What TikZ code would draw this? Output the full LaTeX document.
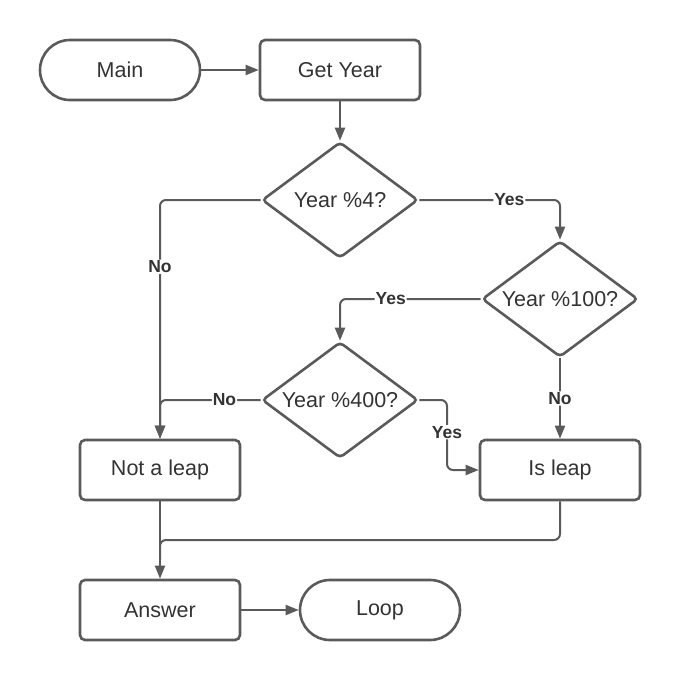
\documentclass[tikz,border=0pt]{standalone}
\usepackage{fontspec}
\setmainfont{Liberation Sans}
\usetikzlibrary{shapes.geometric,arrows.meta}
\definecolor{linec}{HTML}{5A5A5A}
\definecolor{textc}{HTML}{333333}
\tikzset{
  base/.style={draw=linec, line width=2.6pt, text=textc, font=\fontsize{21.5}{25}\selectfont, inner sep=0pt},
  term/.style={base, rounded corners=30pt, minimum width=160pt, minimum height=60pt},
  procbox/.style={base, rounded corners=5pt, minimum width=160pt, minimum height=60pt},
  decision/.style={base, diamond, aspect=1.34, rounded corners=4pt, minimum width=156pt, minimum height=116pt},
  conn/.style={draw=linec, line width=2pt, rounded corners=6pt, -{Triangle[length=13pt,width=10pt]}},
  plain/.style={draw=linec, line width=2pt, rounded corners=6pt},
  lab/.style={fill=white, text=textc, font=\bfseries\fontsize{17.5}{20}\selectfont, inner sep=1pt}
}
\begin{document}
\begin{tikzpicture}[x=1pt,y=-1pt]
\useasboundingbox (0,0) rectangle (680,680);
\node[term] (main) at (120,70) {Main};
\node[procbox] (get) at (340,70) {Get Year};
\node[decision] (d4) at (340,200) {Year \%4?};
\node[decision] (d100) at (560,299) {Year \%100?};
\node[decision] (d400) at (340,400) {Year \%400?};
\node[procbox] (nl) at (160,470) {Not a leap};
\node[procbox] (isl) at (560,470) {Is leap};
\node[procbox] (ans) at (160,610) {Answer};
\node[term] (loop) at (380,610) {Loop};
\coordinate (m) at (160,540);
\coordinate (c1) at (447,400);

\draw[conn] (main) -- (get);
\draw[conn] (get) -- (d4);
\draw[conn] (d4.west) -| node[lab, pos=0.64] {No} (nl.north);
\draw[conn] (d4.east) -| node[lab, pos=0.32] {Yes} (d100.north);
\draw[conn] (d100.west) -| node[lab, pos=0.32] {Yes} (d400.north);
\draw[conn] (d100.south) -- node[lab] {No} (isl.north);
\draw[conn] (d400.west) -| node[lab, pos=0.18] {No} (nl.north);
\draw[conn] (d400.east) -- (c1) |- node[lab, pos=0.23] {Yes} (isl.west);
\draw[conn] (nl.south) -- (ans.north);
\draw[plain] (isl.south) |- (m) -- ++(0,20);
\draw[conn] (ans) -- (loop);
\end{tikzpicture}
\end{document}
